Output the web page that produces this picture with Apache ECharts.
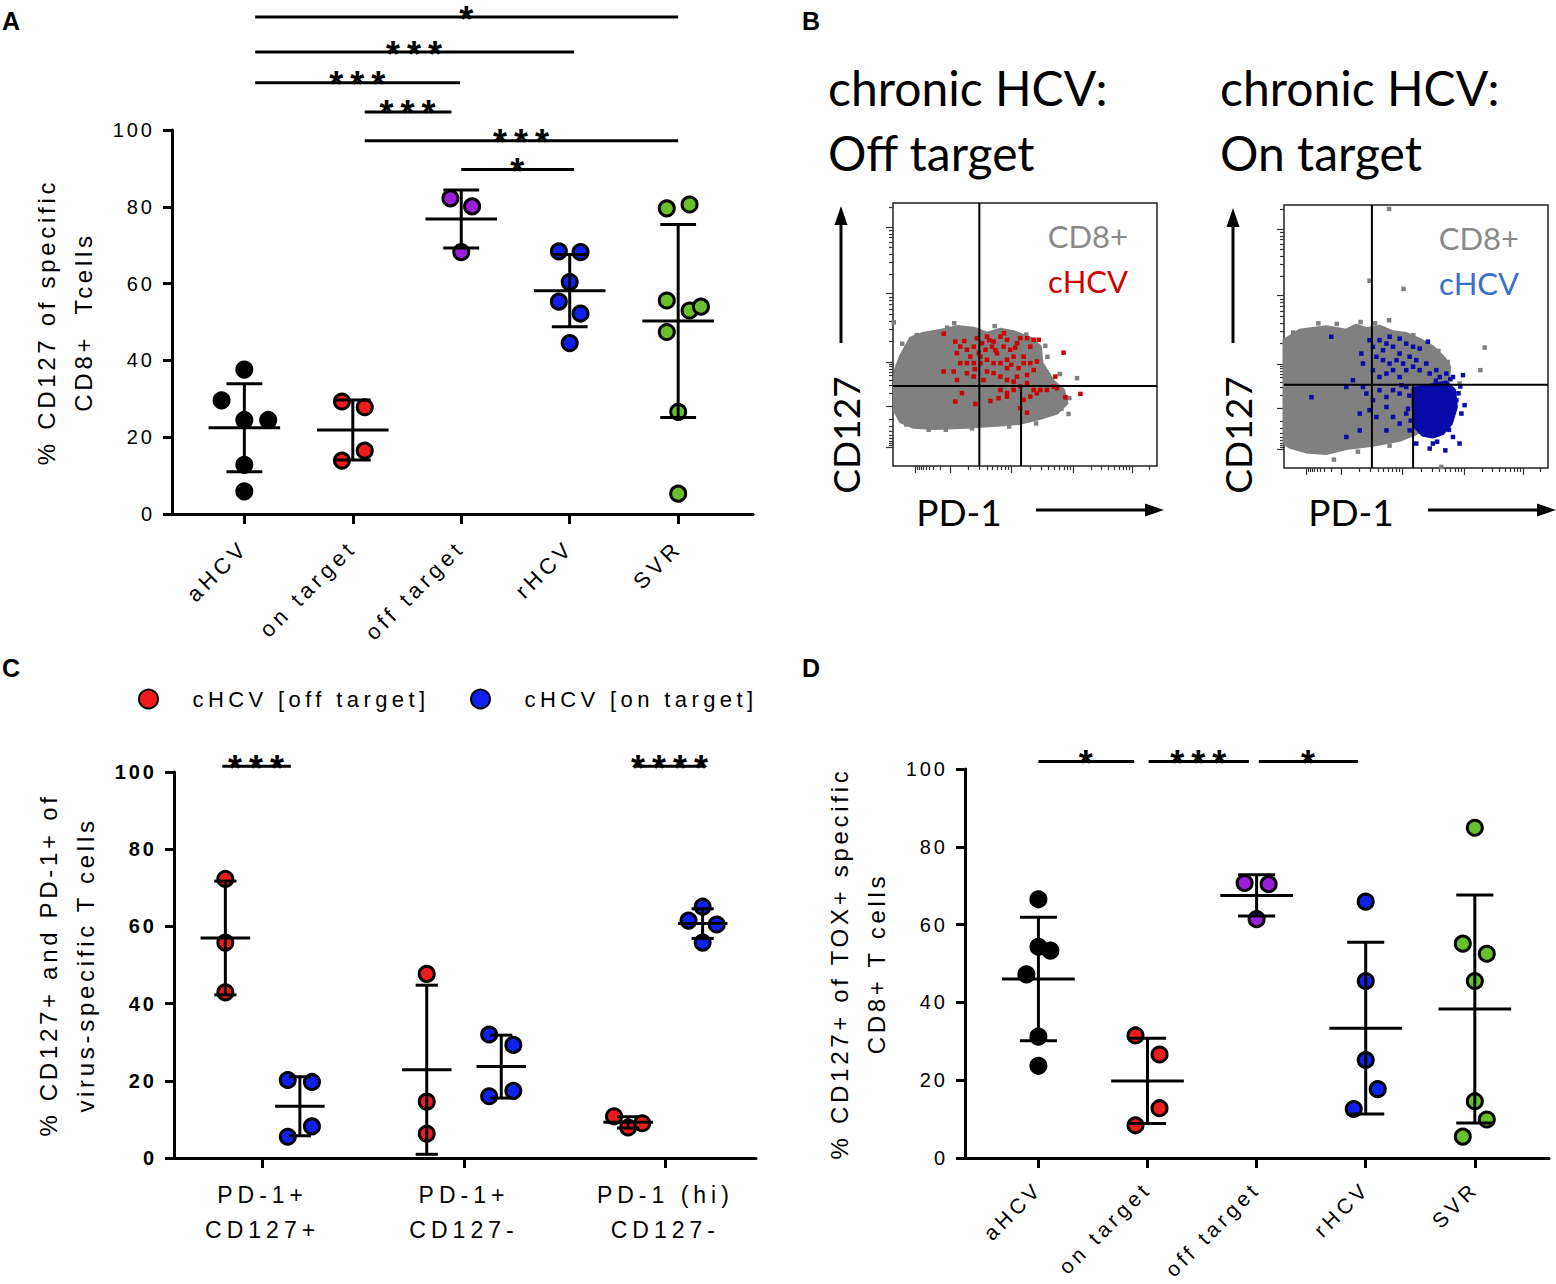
<!DOCTYPE html>
<html><head><meta charset="utf-8"><title>CD127 / PD-1 of HCV-specific CD8+ T cells</title>
<script src="https://cdn.jsdelivr.net/npm/echarts@6.0.0/dist/echarts.min.js"></script>
<style>
html,body{margin:0;padding:0;background:#fff;width:1556px;height:1284px;overflow:hidden;}
.panel{position:absolute;left:0;top:0;width:1556px;height:1284px;}
.spaced text{letter-spacing:3px;}
.spaced text[style*="22px"]{letter-spacing:4.4px;}
.spaced text[style*="21px"]{letter-spacing:4.2px;}
.spaced text[style*="23px"]{letter-spacing:5px;}
.spaced text[style*="24px"]{letter-spacing:3.7px;}
.spaced text[style*="36px"]{letter-spacing:7px;}
</style></head><body>
<div id="cA" class="panel spaced"></div>
<div id="cB" class="panel"></div>
<div id="cC" class="panel spaced"></div>
<div id="cD" class="panel spaced"></div>
<script>
// ---------------- DATA ----------------
const groupsAD = ['aHCV', 'on target', 'off target', 'rHCV', 'SVR'];

// Panel A: % CD127 of specific CD8+ T cells
const aValues = [
  [37.6, 29.6, 24.5, 24.5, 12.8, 5.9],
  [29.3, 27.8, 16.5, 13.9],
  [82.2, 80.1, 68.2],
  [68.4, 68.2, 60.4, 55.3, 52.2, 44.5],
  [79.6, 80.6, 55.6, 53.0, 54.0, 47.4, 26.6, 5.3]
];
const aJitter = [
  [0, -0.21, 0, 0.22, 0, 0],
  [-0.1, 0.11, 0.11, -0.1],
  [-0.1, 0.1, 0],
  [-0.1, 0.1, 0, -0.1, 0.1, 0],
  [-0.105, 0.105, -0.105, 0.105, 0.21, -0.105, 0, 0]
];
const aSigBars = [[0.1, 4.0, 129.4], [0.1, 3.04, 120.3], [0.1, 1.99, 112.3], [1.11, 1.91, 104.7], [1.11, 4.0, 97.2], [2.0, 3.04, 89.7]];
const aSigLabels = ['*', '***', '***', '***', '***', '*'];

// Panel C
const cCategories = ['PD-1+\nCD127+', 'PD-1+\nCD127-', 'PD-1 (hi)\nCD127-'];
const cSeriesNames = ['cHCV [off target]', 'cHCV [on target]'];
const cOff = [[72.3, 55.8, 42.9], [47.7, 14.6, 6.3], [10.8, 7.9, 9.0]];
const cOn = [[20.2, 19.7, 8.2, 5.5], [32.0, 29.3, 17.4, 16.0], [65.1, 61.5, 60.5, 55.8]];
const cOffJitter = [[0, 0, 0], [0, 0, 0], [-0.07, 0, 0.07]];
const cOnJitter = [[-0.06, 0.06, 0.06, -0.06], [-0.06, 0.06, 0.06, -0.06], [0, -0.07, 0.07, 0]];
const cSigBars = [[-0.2, 0.14, 101.5], [1.852, 2.193, 101.5]];
const cSigLabels = ['***', '****'];

// Panel D: % CD127+ of TOX+ specific CD8+ T cells
const dValues = [
  [66.5, 54.3, 53.3, 47.2, 31.2, 23.7],
  [31.5, 26.6, 12.8, 8.4],
  [70.7, 70.4, 61.4],
  [65.9, 45.5, 25.2, 17.7, 12.6],
  [84.9, 55.1, 52.5, 45.5, 14.6, 9.9, 5.5]
];
const dJitter = [
  [0, 0, 0.11, -0.11, 0, 0],
  [-0.11, 0.11, 0.11, -0.11],
  [-0.11, 0.11, 0],
  [0, 0, 0, 0.11, -0.11],
  [0, -0.11, 0.11, 0, 0, 0.11, -0.11]
];
const dSigBars = [[0, 0.877, 101.9], [1.01, 1.93, 101.9], [2.02, 2.93, 101.9]];
const dSigLabels = ['*', '***', '*'];

// Panel B: flow cytometry (axis units: % of plotted range)
const b1Gates = [[32.7, 48.5, 30.4]];
const b2Gates = [[33.3, 48.9, 31.7]];
const b1Cloud = [[0.5,28.9],[0.9,36.5],[2.8,41.6],[6.6,48.6],[11.6,50.5],[17.9,51.5],[24.2,53],[30.6,52.4],[35.6,50.5],[40.7,52],[45.7,51.1],[52,48.6],[55.8,45.4],[56.4,39.1],[60.9,32.1],[64.6,28.9],[65.9,23.9],[62.1,20.1],[55.8,18.1],[48.2,16.2],[40.7,15.6],[28,14.7],[15.4,14.3],[7.8,14.7],[2.8,16.9],[0.5,21.3]];
const b1Outliers = [[23.2,54.3],[69.7,33.4],[66.5,19.8],[0.3,54.6],[57.7,45.7],[60.9,31.2],[29.9,14.3],[54.2,16.2],[13.5,13.8],[3.5,46.5],[9.0,49.8],[20.5,52.6],[38.5,53.2],[50.5,50.0],[58.5,41.5],[63.2,35.0],[66.8,25.8],[63.8,21.8],[44.0,15.0],[20.0,13.8],[5.0,15.8],[1.2,26.0]];
const b1Red = [[19.2,50.3],[23.6,47.3],[25.5,45.4],[24.2,42.9],[28.0,44.2],[30.6,45.4],[29.3,41.6],[31.8,48.6],[33.7,46.7],[35.0,44.2],[33.1,41.6],[35.6,49.2],[38.1,47.3],[37.5,45.4],[39.4,42.9],[40.7,49.2],[43.2,48.0],[41.9,45.4],[44.4,44.2],[45.7,41.6],[43.2,40.4],[40.7,39.1],[38.1,39.1],[35.6,40.4],[33.1,39.1],[30.6,39.1],[28.0,39.1],[25.5,39.1],[23.0,35.9],[24.2,32.7],[19.2,35.9],[47.0,46.7],[48.2,48.6],[50.8,48.6],[53.3,48.0],[55.2,48.0],[52.0,45.4],[49.5,41.6],[52.0,39.1],[54.5,39.7],[53.3,36.5],[50.8,34.6],[47.0,34.0],[45.7,32.1],[43.2,32.7],[40.7,34.0],[38.1,35.3],[35.6,35.9],[34.3,32.7],[40.7,28.9],[43.2,27.7],[45.7,28.9],[48.2,30.2],[50.8,31.5],[53.3,28.9],[55.8,28.9],[58.3,28.9],[60.9,30.2],[62.1,29.6],[64.6,43.1],[61.5,34.0],[71.0,27.4],[65.3,26.1],[48.2,22.0],[50.8,20.3],[49.5,25.1],[52.0,26.4],[54.5,27.7],[26.1,27.7],[23.6,24.5],[31.2,23.6],[36.9,24.7],[40.0,25.8],[43.2,26.4],[30.6,34.0],[28.0,35.3],[43.2,37.2],[47.6,37.2],[49.5,39.1],[36.5,47.8],[42.0,50.5],[46.3,45.0],[32.5,43.0],[38.8,44.0],[44.8,38.5],[27.0,47.5],[31.0,36.8]];
const b2Cloud = [[0,9.3],[0,48.6],[2.1,49.9],[5.9,52.4],[16.0,53.7],[23.6,52.4],[27.4,54.3],[31.2,53.0],[36.2,53.9],[41.3,51.8],[46.3,51.1],[51.4,48.9],[56.4,46.1],[60.9,41.6],[62.8,38.5],[62.1,32.1],[56.4,16.9],[50.1,13.1],[43.8,10.5],[33.7,8.6],[23.6,7.4],[16.0,5.5],[8.5,6.1],[2.1,8.0]];
const b2Outliers = [[39.8,98.5],[32.4,71.2],[45.3,68.1],[39.8,56.2],[76.0,45.8],[74.4,37.2],[66.5,32.1],[59.6,0.4],[18.9,3.2],[9.2,6.5],[62.0,40.3],[60.7,39.6],[13.0,55.0],[29.0,55.5],[3.5,51.5],[20.0,54.8],[34.5,55.0],[49.0,50.5],[58.5,44.5],[28.0,6.2],[40.0,8.5]];
const b2Core = [[48.9,30.2],[55.2,31.5],[61.5,32.7],[64.6,29.6],[65.3,23.2],[63.4,16.9],[60.2,13.1],[56.4,11.8],[52.7,12.4],[49.5,15.6],[48.9,23.2]];
const b2Blue = [[17.9,49.9],[29.3,43.5],[29.9,39.7],[32.4,48.6],[33.7,46.1],[36.2,48.6],[37.5,44.8],[38.8,47.3],[40.0,49.9],[41.3,46.1],[43.8,49.2],[43.8,43.5],[46.3,47.3],[48.9,46.1],[47.6,42.3],[45.1,39.7],[42.6,41.0],[40.0,39.7],[37.5,41.0],[35.0,42.3],[33.7,37.2],[36.2,34.6],[38.8,35.9],[41.3,37.2],[43.8,34.6],[46.3,37.2],[48.9,38.5],[50.1,41.0],[51.4,37.2],[53.9,39.7],[55.2,35.9],[57.7,37.2],[59.0,34.6],[61.5,35.9],[64.0,34.6],[67.8,35.3],[54.5,48.0],[51.4,45.4],[26.1,33.4],[23.6,30.8],[10.4,26.9],[29.9,30.8],[31.2,28.3],[33.7,25.8],[36.2,29.6],[38.8,27.0],[41.3,29.6],[43.8,28.3],[46.3,30.8],[28.7,20.7],[32.4,22.0],[35.0,19.4],[38.8,23.2],[41.3,19.4],[43.8,16.9],[46.3,20.7],[47.6,14.3],[38.8,14.3],[23.6,11.8],[28.7,14.3],[55.2,7.4],[61.1,6.7],[66.5,9.3],[68.4,23.9],[67.2,20.7],[64.0,11.8],[50.1,9.3],[56.4,9.3],[59.0,16.9],[65.3,25.8],[50.1,29.6],[51.4,25.8],[53.9,27.0],[66.1,28.4],[66.8,31.0],[47.5,27.5],[47.0,22.5],[48.0,18.0],[58.0,10.0],[62.5,14.5],[44.5,31.5],[57.5,33.2],[63.0,33.8]];

// ---------------- STYLE / HELPERS ----------------
const FONT = 'Liberation Sans, Arial, sans-serif';
const BFONT = 'Lato, Open Sans, sans-serif';
const groupColors = ['#000000', '#ee1c1c', '#9b1fd6', '#1020f0', '#6abf2c'];
const RED = '#ee1c1c', BLUE = '#1020f0';

function meanSd(a) {
  const n = a.length, m = a.reduce((s, v) => s + v, 0) / n;
  const sd = Math.sqrt(a.reduce((s, v) => s + (v - m) * (v - m), 0) / (n - 1));
  return [m, sd];
}
function lineEl(p, q, w) {
  return { type: 'line', shape: { x1: p[0], y1: p[1], x2: q[0], y2: q[1] }, style: { stroke: '#000', lineWidth: w || 3 } };
}
function errBars(meanHalf, capHalf) {
  return function (params, api) {
    const x = api.value(0), m = api.value(1), s = api.value(2);
    const c = api.coord([x, m]), t = api.coord([x, m + s]), b = api.coord([x, m - s]);
    const mh = api.size([meanHalf, 0])[0], ch = api.size([capHalf, 0])[0];
    return { type: 'group', children: [
      lineEl(t, b),
      lineEl([t[0] - ch, t[1]], [t[0] + ch, t[1]]),
      lineEl([b[0] - ch, b[1]], [b[0] + ch, b[1]]),
      lineEl([c[0] - mh, c[1]], [c[0] + mh, c[1]])
    ] };
  };
}
function sigMarks(labels) {
  return function (params, api) {
    const a = api.coord([api.value(0), api.value(2)]), b = api.coord([api.value(1), api.value(2)]);
    return { type: 'group', children: [
      lineEl(a, b),
      { type: 'text', style: { text: labels[params.dataIndex], x: (a[0] + b[0]) / 2 + 3, y: a[1] + 2,
        fontSize: 36, fontWeight: 'bold', fontFamily: FONT, fill: '#000', textAlign: 'center', textVerticalAlign: 'middle' } }
    ] };
  };
}
function panelLetter(t, x, y) {
  return { type: 'text', x: x, y: y, style: { text: t, fontSize: 25, fontWeight: 'bold', fontFamily: FONT, fill: '#000', textVerticalAlign: 'middle' } };
}
function valueYAxis(name, gap, bold) {
  return { type: 'value', min: 0, max: 100, interval: 20,
    name: name, nameLocation: 'middle', nameRotate: 90, nameGap: gap,
    nameTextStyle: { fontSize: 24, lineHeight: 37, color: '#000', fontFamily: FONT },
    axisLine: { show: true, onZero: false, lineStyle: { color: '#000', width: 3 } },
    axisTick: { show: true, length: 9, lineStyle: { color: '#000', width: 3 } },
    axisLabel: { fontSize: 20, margin: 17, color: '#000', fontFamily: FONT, fontWeight: bold ? 'bold' : 'normal' },
    splitLine: { show: false } };
}
function catXAxis(min, max, ticks, fmt, rotate, margin, size) {
  return { type: 'value', min: min, max: max,
    axisLine: { show: true, onZero: false, lineStyle: { color: '#000', width: 3 } },
    splitLine: { show: false },
    axisTick: { show: true, customValues: ticks, length: 10, lineStyle: { color: '#000', width: 3 } },
    axisLabel: { show: true, customValues: ticks, formatter: fmt, rotate: rotate, margin: margin,
      fontSize: size, lineHeight: 35, color: '#000', fontFamily: FONT } };
}
function dotSeries(values, jitter, offset) {
  return values.map((vals, i) => ({
    type: 'scatter', name: groupsAD[i], z: 2,
    data: vals.map((v, j) => [i + offset + jitter[i][j], v]),
    symbol: 'circle', symbolSize: 15,
    itemStyle: { color: groupColors[i], borderColor: '#000', borderWidth: 3, opacity: 1 }
  }));
}

// ---------------- PANEL A ----------------
const chartA = echarts.init(document.getElementById('cA'), null, { renderer: 'svg', width: 1556, height: 1284 });
chartA.setOption({
  animation: false,
  graphic: [panelLetter('A', 2, 21)],
  grid: { left: 172, top: 130, width: 581, height: 384 },
  xAxis: catXAxis(-0.667, 4.69, [0, 1, 2, 3, 4], v => groupsAD[Math.round(v)], 45, 30, 22),
  yAxis: valueYAxis('% CD127 of specific\nCD8+  Tcells', 70, false),
  series: dotSeries(aValues, aJitter, 0).concat([
    { type: 'custom', z: 5, renderItem: errBars(0.33, 0.165), data: aValues.map((v, i) => [i].concat(meanSd(v))) },
    { type: 'custom', z: 5, renderItem: sigMarks(aSigLabels), data: aSigBars }
  ])
});

// ---------------- PANEL D ----------------
const chartD = echarts.init(document.getElementById('cD'), null, { renderer: 'svg', width: 1556, height: 1284 });
chartD.setOption({
  animation: false,
  graphic: [panelLetter('D', 802, 668)],
  grid: { left: 965, top: 769, width: 584, height: 389 },
  xAxis: catXAxis(-0.673, 4.68, [0, 1, 2, 3, 4], v => groupsAD[Math.round(v)], 45, 27, 21),
  yAxis: valueYAxis('% CD127+ of TOX+ specific\nCD8+ T cells', 70, false),
  series: dotSeries(dValues, dJitter, 0).concat([
    { type: 'custom', z: 5, renderItem: errBars(0.333, 0.17), data: dValues.map((v, i) => [i].concat(meanSd(v))) },
    { type: 'custom', z: 5, renderItem: sigMarks(dSigLabels), data: dSigBars }
  ])
});

// ---------------- PANEL C ----------------
const chartC = echarts.init(document.getElementById('cC'), null, { renderer: 'svg', width: 1556, height: 1284 });
const cOffset = 0.185;
function cPoints(vals, jit, off) {
  const out = [];
  vals.forEach((g, i) => g.forEach((v, j) => out.push([i + off + jit[i][j], v])));
  return out;
}
const legendBase = { icon: 'circle', itemWidth: 78, itemHeight: 19, selectedMode: false, top: 683,
  textStyle: { fontSize: 22, color: '#000', fontFamily: FONT } };
chartC.setOption({
  animation: false,
  graphic: [panelLetter('C', 2, 668)],
  legend: [
    Object.assign({}, legendBase, { data: [cSeriesNames[0]], left: 133 }),
    Object.assign({}, legendBase, { data: [cSeriesNames[1]], left: 465 })
  ],
  grid: { left: 174, top: 772, width: 582, height: 386 },
  xAxis: catXAxis(-0.44, 2.45, [0, 1, 2], v => cCategories[Math.round(v)], 0, 19, 23),
  yAxis: valueYAxis('% CD127+ and PD-1+ of\nvirus-specific T cells', 70, true),
  series: [
    { type: 'scatter', name: cSeriesNames[0], z: 2, data: cPoints(cOff, cOffJitter, -cOffset), symbol: 'circle', symbolSize: 15,
      itemStyle: { color: RED, borderColor: '#000', borderWidth: 3, opacity: 1 } },
    { type: 'scatter', name: cSeriesNames[1], z: 2, data: cPoints(cOn, cOnJitter, cOffset), symbol: 'circle', symbolSize: 15,
      itemStyle: { color: BLUE, borderColor: '#000', borderWidth: 3, opacity: 1 } },
    { type: 'custom', z: 5, renderItem: errBars(0.123, 0.055),
      data: cOff.map((v, i) => [i - cOffset].concat(meanSd(v))).concat(cOn.map((v, i) => [i + cOffset].concat(meanSd(v)))) },
    { type: 'custom', z: 5, renderItem: sigMarks(cSigLabels), data: cSigBars }
  ]
});

// ---------------- PANEL B ----------------
const chartB = echarts.init(document.getElementById('cB'), null, { renderer: 'svg', width: 1556, height: 1284 });
function logMinor(a, b, rev) {
  const out = [];
  for (let k = 2; k <= 9; k++) { const f = Math.log10(k); out.push(rev ? b - (b - a) * f : a + (b - a) * f); }
  return out;
}
const bxMajor = [8.5, 21.7, 44.7, 68.4, 90.5];
const bxMinor = [].concat(logMinor(8.5, 21.7, true), logMinor(21.7, 44.7), logMinor(44.7, 68.4), logMinor(68.4, 90.5), logMinor(90.5, 112.3).filter(v => v < 99.5));
const byMajor = [7, 22.6, 39.5, 65.5, 90.7];
const byMinor = [].concat(logMinor(7, 22.6, true), logMinor(22.6, 39.5), logMinor(39.5, 65.5), logMinor(65.5, 90.7), logMinor(90.7, 115.9).filter(v => v < 99.5));
function bAxis(g, vals, len, pos) {
  return { gridIndex: g, type: 'value', min: 0, max: 100, position: pos,
    axisLine: { show: false, onZero: false }, splitLine: { show: false }, axisLabel: { show: false },
    axisTick: { show: true, inside: false, length: len, customValues: vals, lineStyle: { color: '#333', width: 1.2 } } };
}
function polyRender(color) {
  return function (params, api) {
    if (params.dataIndex !== 0) return null;
    const pts = [];
    for (let i = 0; i < params.dataInsideLength; i++) pts.push(api.coord([api.value(0, i), api.value(1, i)]));
    return { type: 'polygon', shape: { points: pts }, style: { fill: color, stroke: color, lineWidth: 3, lineJoin: 'round' } };
  };
}
function gateRender(params, api) {
  const gx1 = api.value(0), gx2 = api.value(1), gy = api.value(2);
  const p = (x, y) => api.coord([x, y]);
  return { type: 'group', children: [
    lineEl(p(gx1, 0), p(gx1, 100), 2), lineEl(p(0, gy), p(100, gy), 2), lineEl(p(gx2, 0), p(gx2, gy), 2)
  ] };
}
function sq(name, data, color, xi) {
  return { type: 'scatter', name: name, xAxisIndex: xi, yAxisIndex: xi, data: data, symbol: 'rect', symbolSize: 4.5,
    itemStyle: { color: color, opacity: 1 }, z: 3 };
}
const GRAY = '#808080';
function bText(t, x, y, size, color, align, rot) {
  const o = { type: 'text', x: x, y: y, style: { text: t, fontSize: size, fontFamily: BFONT, fill: color, textAlign: align || 'left', textVerticalAlign: 'middle' } };
  if (rot) o.rotation = rot;
  return o;
}
function arrowUp(x, y0, y1) {
  return [{ type: 'line', shape: { x1: x, y1: y0, x2: x, y2: y1 + 16 }, style: { stroke: '#000', lineWidth: 3 } },
          { type: 'polygon', shape: { points: [[x, y1], [x - 6.5, y1 + 19], [x + 6.5, y1 + 19]] }, style: { fill: '#000' } }];
}
function arrowRight(y, x0, x1) {
  return [{ type: 'line', shape: { x1: x0, y1: y, x2: x1 - 16, y2: y }, style: { stroke: '#000', lineWidth: 3 } },
          { type: 'polygon', shape: { points: [[x1, y], [x1 - 19, y - 6.5], [x1 - 19, y + 6.5]] }, style: { fill: '#000' } }];
}
chartB.setOption({
  animation: false,
  graphic: [
    panelLetter('B', 802, 21),
    bText('chronic HCV:', 828, 87, 48, '#000'), bText('Off target', 828, 152, 48, '#000'),
    bText('chronic HCV:', 1220, 87, 48, '#000'), bText('On target', 1220, 152, 48, '#000'),
    bText('CD8+', 1128, 236, 31, '#8a8a8a', 'right'), bText('cHCV', 1128, 281, 31, '#d00000', 'right'),
    bText('CD8+', 1519, 238, 31, '#8a8a8a', 'right'), bText('cHCV', 1519, 283, 31, '#3a70c6', 'right'),
    bText('CD127', 845, 435, 37, '#000', 'center', Math.PI / 2), bText('PD-1', 959, 511, 37, '#000', 'center'),
    bText('CD127', 1237, 435, 37, '#000', 'center', Math.PI / 2), bText('PD-1', 1351, 511, 37, '#000', 'center')
  ].concat(arrowUp(841, 343, 206), arrowRight(510, 1036, 1164), arrowUp(1233, 343, 208), arrowRight(510, 1428, 1556)),
  grid: [
    { left: 893, top: 203, width: 264, height: 263, show: true, borderColor: '#222', borderWidth: 1.5, backgroundColor: 'transparent' },
    { left: 1284, top: 205, width: 264, height: 263, show: true, borderColor: '#222', borderWidth: 1.5, backgroundColor: 'transparent' }
  ],
  xAxis: [bAxis(0, bxMajor, 7, 'bottom'), bAxis(0, bxMinor, 4, 'bottom'), bAxis(1, bxMajor, 7, 'bottom'), bAxis(1, bxMinor, 4, 'bottom')],
  yAxis: [bAxis(0, byMajor, 7, 'left'), bAxis(0, byMinor, 4, 'left'), bAxis(1, byMajor, 7, 'left'), bAxis(1, byMinor, 4, 'left')],
  series: [
    { type: 'custom', name: 'CD8+ (off)', xAxisIndex: 0, yAxisIndex: 0, renderItem: polyRender(GRAY), data: b1Cloud, z: 1 },
    sq('CD8+ outliers (off)', b1Outliers, GRAY, 0),
    sq('cHCV off target', b1Red, '#cc0000', 0),
    { type: 'custom', name: 'gates (off)', xAxisIndex: 0, yAxisIndex: 0, renderItem: gateRender, data: b1Gates, z: 6 },
    { type: 'custom', name: 'CD8+ (on)', xAxisIndex: 2, yAxisIndex: 2, renderItem: polyRender(GRAY), data: b2Cloud, z: 1 },
    sq('CD8+ outliers (on)', b2Outliers, GRAY, 2),
    { type: 'custom', name: 'cHCV on target core', xAxisIndex: 2, yAxisIndex: 2, renderItem: polyRender('#0a0aa8'), data: b2Core, z: 2 },
    sq('cHCV on target', b2Blue, '#0a0aa8', 2),
    { type: 'custom', name: 'gates (on)', xAxisIndex: 2, yAxisIndex: 2, renderItem: gateRender, data: b2Gates, z: 6 }
  ]
});
</script></body></html>
